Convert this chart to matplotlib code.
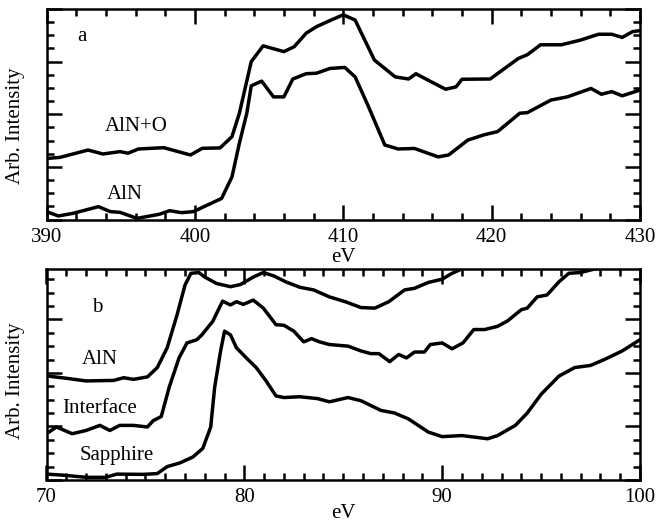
import matplotlib
matplotlib.use("Agg")
import matplotlib.pyplot as plt
from matplotlib.ticker import MultipleLocator

# ---- Panel a data (eV, arbitrary intensity) ----
a_alno_x = [390.0, 390.9, 392.8, 393.8, 394.95, 395.5, 396.2, 397.9, 399.7, 400.5, 401.7, 402.5,
            403.0, 403.8, 404.6, 406.0, 406.7, 407.5, 408.2, 409.1, 410.0, 410.8, 412.1, 413.5,
            414.4, 414.9, 415.7, 416.9, 417.6, 418.0, 419.9, 421.8, 422.4, 423.3, 424.7, 426.0,
            427.2, 428.1, 428.8, 429.5, 430.0]
a_alno_y = [1.16, 1.18, 1.32, 1.245, 1.29, 1.26, 1.34, 1.365, 1.226, 1.353, 1.36, 1.575,
            2.02, 3.0, 3.30, 3.19, 3.285, 3.54, 3.665, 3.78, 3.89, 3.79, 3.03, 2.71,
            2.67, 2.77, 2.65, 2.475, 2.52, 2.665, 2.67, 3.06, 3.13, 3.32, 3.32, 3.41,
            3.52, 3.52, 3.46, 3.57, 3.59]

a_aln_x = [390.0, 390.8, 391.8, 393.5, 394.3, 394.95, 396.1, 397.6, 398.3, 399.1, 399.9, 401.0,
           401.8, 402.5, 403.0, 403.5, 403.8, 404.5, 405.3, 406.0, 406.6, 407.5, 408.2, 409.1,
           410.1, 410.8, 411.7, 412.8, 413.7, 414.8, 416.4, 417.1, 418.4, 419.5, 420.4, 421.9,
           422.4, 424.0, 425.1, 426.7, 427.4, 428.1, 428.8, 430.0]
a_aln_y = [0.15, 0.067, 0.118, 0.244, 0.15, 0.136, 0.022, 0.099, 0.167, 0.13, 0.15, 0.295,
           0.40, 0.81, 1.45, 2.02, 2.54, 2.63, 2.33, 2.33, 2.67, 2.77, 2.78, 2.87,
           2.89, 2.71, 2.145, 1.416, 1.34, 1.35, 1.19, 1.226, 1.51, 1.61, 1.67, 2.02,
           2.03, 2.27, 2.33, 2.49, 2.38, 2.43, 2.35, 2.46]

# ---- Panel b data ----
b_aln_x = [70.0, 71.0, 72.0, 73.4, 73.9, 74.4, 75.1, 75.6, 76.1, 76.6, 77.0, 77.3, 77.7, 78.0,
           78.6, 79.3, 79.8, 80.45, 80.96, 81.5, 82.1, 82.8, 83.5, 84.3, 85.1, 85.9, 86.6,
           87.3, 88.1, 88.6, 89.3, 90.0, 90.5, 91.1]
b_aln_y = [1.944, 1.90, 1.85, 1.86, 1.91, 1.88, 1.925, 2.10, 2.47, 3.085, 3.64, 3.86, 3.875, 3.79,
           3.67, 3.61, 3.65, 3.79, 3.875, 3.81, 3.70, 3.60, 3.55, 3.42, 3.33, 3.22, 3.21,
           3.33, 3.55, 3.58, 3.69, 3.75, 3.86, 3.96]

b_int_x = [70.0, 70.5, 71.3, 72.0, 72.7, 73.2, 73.7, 74.4, 75.1, 75.4, 75.8, 76.2, 76.7, 77.1,
           77.6, 77.85, 78.4, 78.9, 79.3, 79.6, 79.95, 80.45, 80.96, 81.6, 82.0, 82.5, 83.0,
           83.4, 83.8, 84.3, 85.24, 85.9, 86.4, 86.8, 87.35, 87.8, 88.2, 88.6, 89.1, 89.4,
           90.0, 90.5, 91.05, 91.6, 92.15, 92.8, 93.3, 94.0, 94.3, 94.8, 95.3, 95.9, 96.4,
           97.0, 97.7, 98.0]
b_int_y = [0.864, 0.99, 0.864, 0.925, 1.02, 0.925, 1.02, 1.02, 0.99, 1.11, 1.185, 1.73, 2.28, 2.56,
           2.62, 2.71, 2.96, 3.34, 3.27, 3.33, 3.28, 3.36, 3.21, 2.90, 2.89, 2.78, 2.58,
           2.64, 2.58, 2.53, 2.50, 2.41, 2.36, 2.36, 2.21, 2.345, 2.28, 2.39, 2.39, 2.53,
           2.56, 2.45, 2.56, 2.81, 2.81, 2.87, 2.97, 3.18, 3.21, 3.42, 3.455, 3.70, 3.86,
           3.875, 3.94, 3.96]

b_sap_x = [70.0, 70.85, 72.0, 73.0, 73.55, 74.9, 75.6, 76.1, 76.75, 77.4, 77.9, 78.3, 78.5, 78.8,
           79.0, 79.3, 79.6, 80.1, 80.6, 81.1, 81.6, 82.0, 82.8, 83.7, 84.3, 85.24, 85.9,
           86.9, 87.6, 88.3, 89.3, 90.0, 91.0, 91.65, 92.3, 92.8, 93.7, 94.3, 95.0, 95.9,
           96.7, 97.5, 98.2, 99.1, 100.0]
b_sap_y = [0.11, 0.09, 0.05, 0.05, 0.11, 0.105, 0.12, 0.25, 0.32, 0.43, 0.59, 0.99, 1.73, 2.41,
           2.78, 2.71, 2.47, 2.28, 2.10, 1.85, 1.57, 1.54, 1.555, 1.52, 1.46, 1.54, 1.48,
           1.30, 1.25, 1.14, 0.895, 0.81, 0.83, 0.80, 0.77, 0.83, 1.02, 1.25, 1.60, 1.94,
           2.10, 2.14, 2.25, 2.41, 2.62]

plt.rcParams['font.family'] = ['Liberation Serif', 'DejaVu Serif']
FS = 15
LW = 2.5

fig = plt.figure(figsize=(6.58, 5.27), dpi=100)
W, H = 658.0, 527.0
L, R = 46.5, 640.0
ax1 = fig.add_axes([L / W, 1 - 219.5 / H, (R - L) / W, (219.5 - 9) / H])
ax2 = fig.add_axes([L / W, 1 - 480.0 / H, (R - L) / W, (480.0 - 268.5) / H])


def style(ax, xmaj, xmin, lpad):
    ax.xaxis.set_major_locator(MultipleLocator(xmaj))
    ax.xaxis.set_minor_locator(MultipleLocator(xmin))
    ax.yaxis.set_major_locator(MultipleLocator(1))
    ax.yaxis.set_minor_locator(MultipleLocator(0.25))
    ax.tick_params(which='both', direction='in', top=True, right=True, width=1.8,
                   labelsize=FS, pad=6, labelleft=False)
    ax.tick_params(which='major', length=10.5)
    ax.tick_params(which='minor', length=5)
    for s in ax.spines.values():
        s.set_linewidth(1.8)
    ax.set_xlabel('eV', fontsize=FS, labelpad=lpad)
    ax.set_ylabel('Arb. Intensity', fontsize=FS)


ax1.plot(a_alno_x, a_alno_y, color='black', lw=LW, solid_joinstyle='round')
ax1.plot(a_aln_x, a_aln_y, color='black', lw=LW, solid_joinstyle='round')
ax1.set_xlim(390, 430)
ax1.set_ylim(0, 4)
style(ax1, 10, 2, 1)
ax1.yaxis.set_label_coords(-0.036, 0.444)
ax1.text(0.060, 0.867, 'a', transform=ax1.transAxes, fontsize=FS, ha='center', va='center')
ax1.text(0.152, 0.44, 'AlN+O', transform=ax1.transAxes, fontsize=FS, ha='center', va='center')
ax1.text(0.132, 0.121, 'AlN', transform=ax1.transAxes, fontsize=FS, ha='center', va='center')

ax2.plot(b_aln_x, b_aln_y, color='black', lw=LW, solid_joinstyle='round')
ax2.plot(b_int_x, b_int_y, color='black', lw=LW, solid_joinstyle='round')
ax2.plot(b_sap_x, b_sap_y, color='black', lw=LW, solid_joinstyle='round')
ax2.set_xlim(70, 100)
ax2.set_ylim(0, 3.95)
style(ax2, 10, 1, -2.5)
ax2.yaxis.set_label_coords(-0.036, 0.467)
ax2.text(0.085, 0.814, 'b', transform=ax2.transAxes, fontsize=FS, ha='center', va='center')
ax2.text(0.090, 0.570, 'AlN', transform=ax2.transAxes, fontsize=FS, ha='center', va='center')
ax2.text(0.090, 0.336, 'Interface', transform=ax2.transAxes, fontsize=FS, ha='center', va='center')
ax2.text(0.119, 0.116, 'Sapphire', transform=ax2.transAxes, fontsize=FS, ha='center', va='center')

fig.savefig('out.png', dpi=100)
